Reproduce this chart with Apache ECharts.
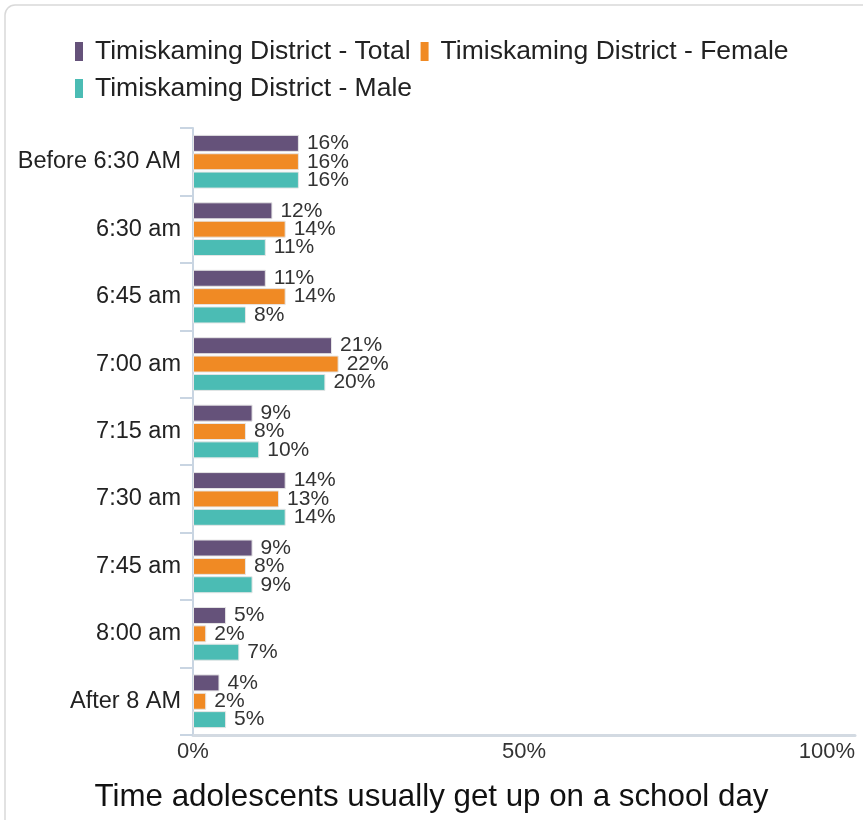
<!DOCTYPE html>
<html>
<head>
<meta charset="utf-8">
<script src="https://cdn.jsdelivr.net/npm/echarts@6/dist/echarts.min.js"></script>
<style>
html,body{margin:0;padding:0;background:#fff;overflow:hidden;}
#c{width:863px;height:820px;}
</style>
</head>
<body>
<div id="c"></div>
<script>
const categories = ["Before 6:30 AM","6:30 am","6:45 am","7:00 am","7:15 am","7:30 am","7:45 am","8:00 am","After 8 AM"];
const seriesNames = ["Timiskaming District - Total","Timiskaming District - Female","Timiskaming District - Male"];
const totalValues = [16,12,11,21,9,14,9,5,4];
const femaleValues = [16,14,14,22,8,13,8,2,2];
const maleValues = [16,11,8,20,10,14,9,7,5];
const xTicks = [0,50,100];
const colors = ["#65527a","#f08a24","#4bbcb4"];
const chartTitle = "Time adolescents usually get up on a school day";

const font = "Liberation Sans, Arial, Helvetica, sans-serif";
const chart = echarts.init(document.getElementById('c'));
const dataSets = [totalValues, femaleValues, maleValues];
chart.setOption({
  animation:false,
  color: colors,
  graphic:[{type:'rect',shape:{x:5,y:5,width:900,height:830,r:10},style:{fill:'none',stroke:'#d9d9d9',lineWidth:1.5},silent:true}],
  title:{text:chartTitle,left:'center',bottom:2,textStyle:{fontFamily:font,fontSize:31.3,fontWeight:'normal',color:'#111'}},
  legend:{left:70,top:33,width:780,itemWidth:8,itemHeight:19,itemGap:10,icon:'rect',
    itemStyle:{borderWidth:0},
    textStyle:{fontFamily:font,fontSize:26.5,color:'#222',padding:[0,17,0,7]},data:seriesNames},
  grid:{left:193,right:8,top:128,bottom:85,containLabel:false},
  xAxis:{type:'value',min:0,max:100,interval:50,
    axisLine:{show:true,lineStyle:{color:'#d3dae2',width:3}},
    axisTick:{show:false},splitLine:{show:false},
    axisLabel:{formatter:v=>xTicks.includes(v)?v+'%':'',fontFamily:font,fontSize:22,color:'#333',margin:6,alignMaxLabel:'right'}},
  yAxis:{type:'category',inverse:true,data:categories,
    axisLine:{show:true,lineStyle:{color:'#c9d5e2',width:2}},
    axisTick:{show:true,length:13,lineStyle:{color:'#c9d5e2',width:2}},
    axisLabel:{fontFamily:font,fontSize:23.5,color:'#222',margin:12}},
  series: seriesNames.map((n,i)=>({
    name:n,type:'bar',data:dataSets[i],barWidth:17,barGap:'8%',barCategoryGap:'20%',
    itemStyle:{color:colors[i],borderColor:'#e6e6e6',borderWidth:1},
    label:{show:true,position:'right',distance:8,formatter:'{c}%',fontFamily:font,fontSize:21,color:'#333'}
  }))
});
</script>
</body>
</html>
